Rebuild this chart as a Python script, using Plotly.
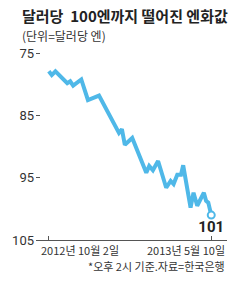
import plotly.graph_objects as go

dates = ["2012-10-02", "2012-10-06", "2012-10-11", "2012-10-27", "2012-10-31", "2012-11-04",
         "2012-11-15", "2012-11-24", "2012-12-09", "2013-01-05", "2013-01-09", "2013-01-13",
         "2013-01-23", "2013-02-11", "2013-02-15", "2013-02-20", "2013-02-27", "2013-03-10",
         "2013-03-16", "2013-03-20", "2013-03-25", "2013-03-30", "2013-04-02", "2013-04-12",
         "2013-04-16", "2013-04-21", "2013-04-30", "2013-05-03", "2013-05-06", "2013-05-10"]
yen = [77.9, 78.5, 77.9, 79.8, 79.5, 80.2,
       79.2, 82.5, 81.8, 87.8, 87.2, 89.7,
       88.6, 94.2, 93.1, 93.8, 92.3, 96.6,
       95.5, 96.0, 94.5, 94.5, 93.0, 99.8,
       97.4, 99.5, 97.4, 98.7, 99.0, 101.0]
y_ticks = [75, 85, 95, 105]
x_tick_dates = ["2012-10-02", "2013-05-10"]
x_tick_labels = ["2012년 10월 2일", "2013년 5월 10일"]
title = "달러당  100엔까지 떨어진 엔화값"
subtitle = "(단위=달러당 엔)"
note = "*오후 2시 기준.자료=한국은행"
end_label = "101"

BLUE = "#4FB8E8"
DARK = "#333333"
KR = "Noto Sans CJK KR, Noto Sans, sans-serif"
NUM = "Liberation Sans Narrow, Roboto, Liberation Sans, sans-serif"

fig = go.Figure()
fig.add_trace(go.Scatter(x=dates, y=yen, mode="lines",
                         line=dict(color=BLUE, width=4, shape="linear"),
                         hoverinfo="skip", showlegend=False))
fig.add_trace(go.Scatter(x=[dates[-1]], y=[yen[-1]], mode="markers+text",
                         marker=dict(size=7, color="white", line=dict(color=BLUE, width=2)),
                         text=["<b>" + end_label + "</b>"], textposition="bottom center",
                         textfont=dict(family=NUM, size=15, color="#222222"),
                         hoverinfo="skip", showlegend=False))

fig.update_layout(
    width=250, height=287,
    margin=dict(l=33, r=23, t=40, b=47),
    paper_bgcolor="white", plot_bgcolor="white",
    xaxis=dict(type="date", range=["2012-09-14 16:00", "2013-05-31 08:00"],
               showgrid=False, zeroline=False,
               showline=True, linecolor="#555555", linewidth=1,
               tickvals=x_tick_dates, ticktext=["", ""],
               ticks="inside", ticklen=4, tickcolor="#555555", tickwidth=1),
    yaxis=dict(range=[105, 72.86], showgrid=False, zeroline=False, showline=False,
               tickvals=y_ticks, ticks="inside", ticklen=4, tickcolor="#555555",
               tickfont=dict(family=NUM, size=13, color=DARK), ticklabelstandoff=1),
)

fig.add_annotation(xref="paper", yref="paper", x=-33/194, y=1 + 24/200, text="<b>" + title + "</b>",
                   showarrow=False, xanchor="left", yanchor="middle",
                   xshift=16, font=dict(family=KR, size=15, color="#222222"))
fig.add_annotation(xref="paper", yref="paper", x=-33/194, y=1 + 5/200, text=subtitle,
                   showarrow=False, xanchor="left", yanchor="middle",
                   xshift=16, font=dict(family=KR, size=12, color=DARK))
fig.add_annotation(xref="x", yref="paper", x=x_tick_dates[0], y=0, text=x_tick_labels[0],
                   showarrow=False, xanchor="left", yanchor="top", xshift=-10, yshift=0,
                   font=dict(family=KR, size=11, color=DARK))
fig.add_annotation(xref="paper", yref="paper", x=1, y=0, text=x_tick_labels[1],
                   showarrow=False, xanchor="right", yanchor="top", yshift=0,
                   font=dict(family=KR, size=11, color=DARK))
fig.add_annotation(xref="paper", yref="paper", x=1, y=0, text=note,
                   showarrow=False, xanchor="right", yanchor="top", yshift=-16,
                   font=dict(family=KR, size=11, color=DARK))

fig.write_html("out.html")
